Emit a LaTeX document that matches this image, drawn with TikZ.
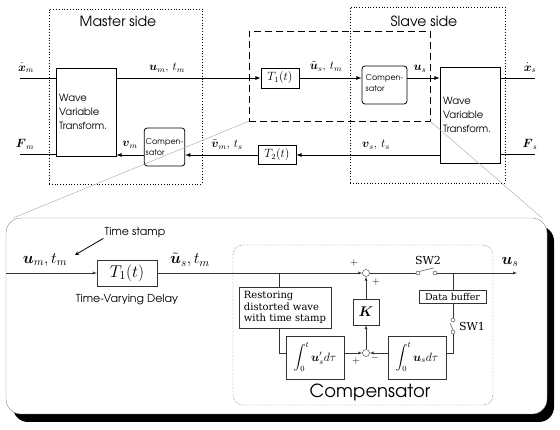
\RequirePackage{fix-cm}
\documentclass[tikz,border=0pt]{standalone}
\usepackage{amsmath}
\usepackage{fontspec}
\newfontfamily\gothic{TeX Gyre Adventor}
\newfontfamily\lucid{DejaVu Serif}
\newcommand{\Vb}[1]{\boldsymbol{#1}}
\usepgflibrary{arrows}
\usetikzlibrary{shadows}

\begin{document}
\begin{tikzpicture}[x=1pt,y=-1pt,>=latex]
          \useasboundingbox (0,0) rectangle (560,430);
          \tikzstyle{side} = [draw, thick, dotted]
          \tikzstyle{wvt} = [draw, thick, minimum width=60pt, text width=54pt, align=left,
            inner sep=2pt, font=\gothic\fontsize{10}{14}\selectfont]
          \tikzstyle{comp} = [draw, thick, rounded corners=3pt, minimum height=38pt, align=left,
            inner sep=1.5pt, font=\gothic\fontsize{8}{11.5}\selectfont]
          \tikzstyle{dly} = [draw, thick, minimum width=38pt, minimum height=20pt, inner sep=1pt,
            font=\fontsize{12}{14}\selectfont]
          \tikzstyle{lbl} = [inner sep=1pt, font=\fontsize{12}{14}\selectfont]
          \tikzstyle{line} = [draw,->,thick]
          \tikzstyle{blkB} = [draw, black!80, text=black, inner sep=1pt]
          \tikzstyle{lineB} = [draw,->,black!80]
          \tikzstyle{sumj} = [draw, black!80, fill=white, circle, inner sep=0pt, minimum size=7pt]
          \tikzstyle{term} = [draw, black!80, fill=white, circle, inner sep=0pt, minimum size=4pt]
          \tikzstyle{sgn} = [inner sep=0pt, font=\fontsize{10}{10}\selectfont]

          % upper diagram
          \node(MasterSide)[side, minimum width=153pt, minimum height=175pt] at (125.5,96.5) {};
          \node[font=\gothic\fontsize{14}{16}\selectfont] at (118,21) {Master side};
          \node(SlaveSide)[side, minimum width=155pt, minimum height=176pt] at (427.5,95) {};
          \node[font=\gothic\fontsize{14}{16}\selectfont] at (424,21) {Slave side};
          \node(Zoom)[draw, thick, dash pattern=on 7pt off 4pt, minimum width=181pt, minimum height=90pt] at (339.5,76) {};

          \node(MasterWVT)[wvt, minimum height=88pt] at (86,112) {Wave\\Variable\\Transform.};
          \node(SlaveWVT)[wvt, minimum height=96pt] at (470,115) {Wave\\Variable\\Transform.};
          \node(MasterComp)[comp, minimum width=35pt] at (164.5,147) {Compen-\\sator};
          \node(SlaveComp)[comp, minimum width=45pt, text height=14pt] at (384.5,85) {Compen-\\sator};
          \node(TOne)[dly] at (280,78) {$T_1(t)$};
          \node(TTwo)[dly, minimum height=19pt] at (277,155) {$T_2(t)$};

          \coordinate (XmIn) at (20,78);
          \coordinate (FmIn) at (20,154);
          \coordinate (XsOut) at (535,78);
          \coordinate (FsOut) at (535,154);
          \draw[thick] (XmIn) -- (XmIn -| MasterWVT.west);
          \draw[thick] (FmIn) -- (FmIn -| MasterWVT.west);
          \draw[line] (MasterWVT.east |- TOne) -- (TOne);
          \draw[line] (TOne) -- (SlaveComp.west |- TOne);
          \draw[line] (SlaveComp.east |- TOne) -- (SlaveWVT.west |- TOne);
          \draw[thick] (SlaveWVT.east |- XsOut) -- (XsOut);
          \draw[thick] (SlaveWVT.east |- FsOut) -- (FsOut);
          \draw[line] (SlaveWVT.west |- TTwo) -- (TTwo);
          \draw[line] (TTwo) -- (MasterComp.east |- TTwo);
          \draw[line] (MasterComp.west |- TTwo) -- (MasterWVT.east |- TTwo);

          \node[lbl] at (26,68) {$\dot{\Vb{x}}_m$};
          \node[lbl] at (25,144) {$\Vb{F}_m$};
          \node[lbl] at (167,68) {$\Vb{u}_m,\, t_m$};
          \node[lbl] at (130,145) {$\Vb{v}_m$};
          \node[lbl] at (227,145) {$\tilde{\Vb{v}}_m,\, t_s$};
          \node[lbl] at (326,67) {$\tilde{\Vb{u}}_s,\, t_m$};
          \node[lbl] at (420,69) {$\Vb{u}_s$};
          \node[lbl] at (530,68) {$\dot{\Vb{x}}_s$};
          \node[lbl] at (530,144) {$\Vb{F}_s$};
          \node[lbl] at (376,145) {$\Vb{v}_s,\, t_s$};

          % zoomed compensator
          \draw[black!35] (Zoom.south west) -- (13,218);
          \draw[black!35] (Zoom.south east) -- (542,218);
          \node(Panel)[draw=black!45, fill=white, rounded corners=15pt, minimum width=541pt, minimum height=196pt,
            drop shadow={shadow xshift=7pt, shadow yshift=-8pt, fill=black, opacity=1}] at (276.5,316) {};

          \coordinate (In) at (6,273);
          \coordinate (Branch) at (279,273);
          \coordinate (Tap) at (453,273);
          \coordinate (Out) at (517,273);
          \coordinate (StampTip) at (75,255);
          \node(TOneB)[blkB, minimum width=60pt, minimum height=26pt, font=\fontsize{17}{19}\selectfont] at (127,273) {$T_1(t)$};
          \node[font=\fontsize{16}{18}\selectfont, inner sep=1pt] at (45,260) {$\Vb{u}_m, t_m$};
          \node[font=\fontsize{16}{18}\selectfont, inner sep=1pt] at (190,260) {$\tilde{\Vb{u}}_s, t_m$};
          \node(Stamp)[inner sep=1pt, font=\gothic\fontsize{11}{13}\selectfont] at (135,232) {Time stamp};
          \node[font=\gothic\fontsize{11}{13}\selectfont] at (127,300) {Time-Varying Delay};
          \draw[->, thick, >=stealth] (Stamp.south west) -- (StampTip);

          \node(CompBox)[draw, black!80, densely dotted, rounded corners=10pt, minimum width=260pt, minimum height=160pt] at (363,325) {};
          \node[font=\gothic\fontsize{18}{20}\selectfont] at (370,392) {Compensator};
          \node(SumA)[sumj] at (366,273) {};
          \node(SumB)[sumj] at (366,353) {};
          \node(Gain)[blkB, minimum size=26pt, font=\fontsize{14}{16}\selectfont] at (366,312) {$\Vb{K}$};
          \node(Restore)[blkB, minimum width=92pt, minimum height=41pt, align=left, font=\lucid\fontsize{10}{11.7}\selectfont] at (285,307.5) {Restoring\\distorted wave\\with time stamp};
          \node(IntA)[blkB, minimum width=58pt, minimum height=43pt, font=\fontsize{12}{14}\selectfont] at (315,357.5) {$\displaystyle\int_0^t \Vb{u}'_s d\tau$};
          \node(IntB)[blkB, minimum width=58pt, minimum height=43pt, font=\fontsize{12}{14}\selectfont] at (417,357.5) {$\displaystyle\int_0^t \Vb{u}_s d\tau$};
          \node(Buffer)[blkB, minimum width=67pt, minimum height=13pt, font=\lucid\fontsize{9.5}{11}\selectfont] at (452.5,296.5) {Data buffer};
          \node(SWOneA)[term] at (453,320) {};
          \node(SWOneB)[term] at (453,332) {};
          \node(SWTwoA)[term] at (418,273) {};
          \node(SWTwoB)[term] at (435,273) {};
          \node[font=\lucid\fontsize{11}{13}\selectfont] at (472,326) {SW1};
          \node[font=\lucid\fontsize{11}{13}\selectfont] at (428,260) {SW2};
          \node[font=\fontsize{16}{18}\selectfont, inner sep=1pt] at (510,262) {$\Vb{u}_s$};
          \node[sgn] at (354,263) {$+$};
          \node[sgn] at (376,282) {$+$};
          \node[sgn] at (356,361) {$+$};
          \node[sgn] at (375,358) {$-$};

          \draw[lineB] (In) -- (TOneB);
          \draw[lineB] (TOneB) -- (SumA);
          \draw[black!80] (Branch) -- (Branch |- Restore.north);
          \draw[black!80] (Branch |- Restore.south) |- (IntA.west |- SumB);
          \draw[lineB] (IntA.east |- SumB) -- (SumB);
          \draw[lineB] (IntB.west |- SumB) -- (SumB);
          \draw[lineB] (SumB) -- (Gain);
          \draw[lineB] (Gain) -- (SumA);
          \draw[black!80] (SumA) -- (SWTwoA);
          \draw[black!80] (SWTwoA.north east) -- ([xshift=-1pt,yshift=3pt]SWTwoB.north);
          \draw[lineB] (SWTwoB) -- (Out);
          \draw[black!80] (Tap) -- (Tap |- Buffer.north);
          \draw[black!80] (Tap |- Buffer.south) -- (SWOneA);
          \draw[black!80] (SWOneB.north) -- ([xshift=-3pt,yshift=-1pt]SWOneA.south);
          \draw[black!80] (SWOneB) -- (SWOneB |- SumB) -- (IntB.east |- SumB);
        \end{tikzpicture}
\end{document}
